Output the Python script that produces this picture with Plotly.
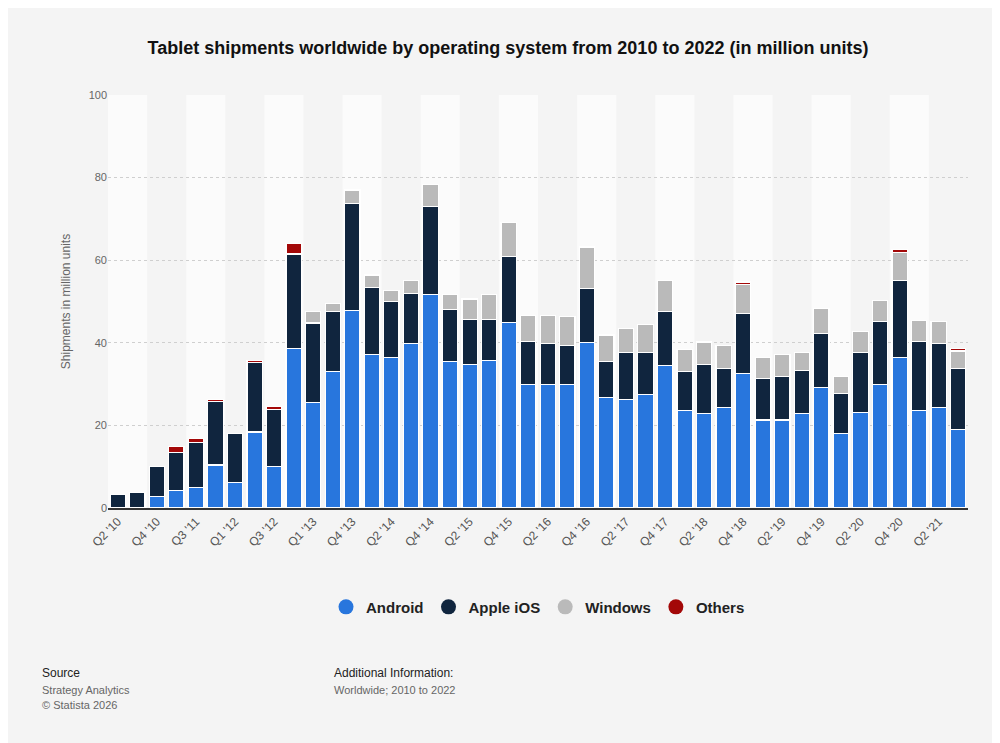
import plotly.graph_objects as go

quarters = ["Q2 '10", "Q3 '10", "Q4 '10", "Q2 '11", "Q3 '11", "Q4 '11", "Q1 '12", "Q2 '12",
            "Q3 '12", "Q4 '12", "Q1 '13", "Q3 '13", "Q4 '13", "Q1 '14", "Q2 '14", "Q3 '14",
            "Q4 '14", "Q1 '15", "Q2 '15", "Q3 '15", "Q4 '15", "Q1 '16", "Q2 '16", "Q3 '16",
            "Q4 '16", "Q1 '17", "Q2 '17", "Q3 '17", "Q4 '17", "Q1 '18", "Q2 '18", "Q3 '18",
            "Q4 '18", "Q1 '19", "Q2 '19", "Q3 '19", "Q4 '19", "Q1 '20", "Q2 '20", "Q3 '20",
            "Q4 '20", "Q1 '21", "Q2 '21", "Q3 '21"]

android = [0, 0, 2.8, 4.2, 4.9, 10.4, 6.2, 18.4, 10.1, 38.6, 25.5, 33.0, 47.8, 37.2, 36.4,
           39.8, 51.6, 35.5, 34.8, 35.8, 44.9, 30.0, 30.0, 30.0, 40.1, 26.8, 26.2, 27.5, 34.6,
           23.6, 22.9, 24.3, 32.6, 21.3, 21.3, 22.9, 29.1, 18.1, 23.2, 30.0, 36.4, 23.6, 24.3, 19.0]
ios = [3.2, 3.8, 7.2, 9.3, 10.9, 15.3, 11.8, 16.8, 13.8, 22.9, 19.3, 14.6, 26.0, 16.2, 13.6,
       12.1, 21.4, 12.5, 10.9, 9.9, 16.0, 10.3, 9.9, 9.4, 13.1, 8.7, 11.5, 10.2, 13.0,
       9.4, 11.9, 9.5, 14.5, 10.0, 10.6, 10.4, 13.2, 9.6, 14.5, 15.2, 18.7, 16.7, 15.6, 14.8]
windows = [0, 0, 0, 0, 0, 0, 0, 0, 0, 0, 2.8, 2.0, 3.2, 3.0, 2.6,
           3.2, 5.3, 3.6, 4.9, 5.9, 8.3, 6.4, 6.8, 7.0, 10.0, 6.4, 5.8, 6.8, 7.5,
           5.4, 5.4, 5.6, 7.1, 5.1, 5.2, 4.4, 6.0, 4.2, 5.1, 5.0, 6.8, 5.1, 5.2, 4.2]
others = [0, 0, 0, 1.3, 1.0, 0.6, 0, 0.6, 0.6, 2.6, 0, 0, 0, 0, 0,
          0, 0, 0, 0, 0, 0, 0, 0, 0, 0, 0, 0, 0, 0,
          0, 0, 0, 0.5, 0, 0, 0, 0, 0, 0, 0, 0.6, 0, 0, 0.7]

series = [("Android", android, "#2876dd"), ("Apple iOS", ios, "#10253e"),
          ("Windows", windows, "#bababa"), ("Others", others, "#a30808")]

fig = go.Figure()
for name, vals, color in series:
    fig.add_trace(go.Bar(x=quarters, y=vals, name=name, showlegend=False,
                         marker=dict(color=color, line=dict(color="white", width=1.2))))
# legend entries with round markers
for name, vals, color in series:
    fig.add_trace(go.Scatter(x=[quarters[0]], y=[None], name="<b>" + name + "</b>", mode="markers",
                             marker=dict(color=color, size=15, symbol="circle")))

# alternating column bands
for i in range(0, len(quarters), 4):
    fig.add_shape(type="rect", xref="x", yref="paper", x0=i - 0.5, x1=i + 1.5, y0=0, y1=1,
                  fillcolor="#fbfbfb", line_width=0, layer="below")

fig.update_layout(
    title=dict(text="<b>Tablet shipments worldwide by operating system from 2010 to 2022 (in million units)</b>",
               x=0.5, xanchor="center", y=0.955, font=dict(size=18, color="#111")),
    barmode="stack", bargap=0.22,
    paper_bgcolor="#f4f4f4", plot_bgcolor="#f4f4f4",
    font=dict(family="Liberation Sans, Arial", color="#666"),
    width=1000, height=743,
    margin=dict(l=100, r=40, t=87, b=243),
    xaxis=dict(tickangle=-45, tickvals=quarters[::2], tickfont=dict(size=12, color="#555"),
               range=[-0.5, len(quarters) - 0.5],
               showline=True, linecolor="#333", linewidth=2, ticks=""),
    yaxis=dict(range=[0, 100], dtick=20, title=dict(text="Shipments in million units", font=dict(size=12, color="#666")),
               gridcolor="#cfcfcf", griddash="dot", zeroline=False, tickfont=dict(size=11, color="#666")),
    legend=dict(orientation="h", x=0.5, xanchor="center", y=-0.2, yanchor="top", traceorder="normal",
                font=dict(size=15, color="#222")),
)
for txt, x, y, sz, col in [("Source", 32, 665, 12, "#222"), ("Strategy Analytics", 32, 682, 11, "#666"),
                           ("© Statista 2026", 32, 697, 11, "#666"),
                           ("Additional Information:", 324, 665, 12, "#222"),
                           ("Worldwide; 2010 to 2022", 324, 682, 11, "#666")]:
    fig.add_annotation(text=txt, x=(x - 100) / 860, y=(500 - y) / 413, xref="paper", yref="paper",
                       xanchor="left", yanchor="middle", showarrow=False, font=dict(size=sz, color=col))

fig.write_html("out.html")
